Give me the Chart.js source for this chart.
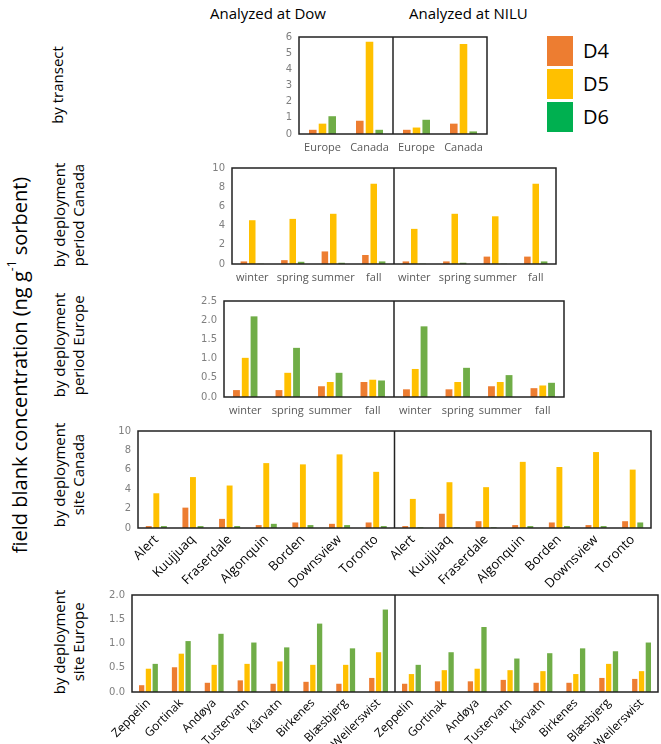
<!DOCTYPE html>
<html>
<head>
<meta charset="utf-8">
<script src="https://cdn.jsdelivr.net/npm/chart.js@4/dist/chart.umd.min.js"></script>
<style>
  html, body { margin:0; padding:0; background:#fff; }
  body { width:661px; height:744px; position:relative; overflow:hidden; font-family:'Open Sans', sans-serif; }
  canvas { position:absolute; }
  .t { position:absolute; white-space:nowrap; color:#000; }
  .vert { position:absolute; writing-mode:vertical-rl; transform:translate(-50%,-50%) rotate(180deg); white-space:nowrap; text-align:center; line-height:1.3; color:#000; }
  .sw { position:absolute; width:26px; height:30px; }
</style>
</head>
<body>

<div class="t" style="left:210px;top:3px;font-size:15px;">Analyzed at Dow</div>
<div class="t" style="left:409px;top:3px;font-size:15px;">Analyzed at NILU</div>

<div class="vert" style="left:20px;top:365px;font-size:20px;">field blank concentration (ng g<sup style="font-size:12px;line-height:0">-1</sup> sorbent)</div>
<div class="vert" style="left:58px;top:85px;font-size:15px;">by transect</div>
<div class="vert" style="left:69px;top:215px;font-size:15px;">by deployment<br>period Canada</div>
<div class="vert" style="left:69px;top:345px;font-size:15px;">by deployment<br>period Europe</div>
<div class="vert" style="left:69px;top:475px;font-size:15px;">by deployment<br>site Canada</div>
<div class="vert" style="left:69px;top:642px;font-size:15px;">by deployment<br>site Europe</div>

<div class="sw" style="left:547px;top:36px;background:#ED7D31;"></div>
<div class="sw" style="left:547px;top:69px;background:#FFC000;"></div>
<div class="sw" style="left:547px;top:102px;background:#00B050;"></div>
<div class="t" style="left:583px;top:37px;font-size:20px;">D4</div>
<div class="t" style="left:583px;top:70px;font-size:20px;">D5</div>
<div class="t" style="left:583px;top:103px;font-size:20px;">D6</div>

<canvas id="c1"></canvas>
<canvas id="c2"></canvas>
<canvas id="c3"></canvas>
<canvas id="c4"></canvas>
<canvas id="c5"></canvas>

<script>
// ---------- data (order: Analyzed at Dow categories, then Analyzed at NILU categories) ----------
const seriesNames = ['D4', 'D5', 'D6'];

const transectCats = ['Europe', 'Canada'];
const transectD4 = [0.26, 0.82, 0.26, 0.64];
const transectD5 = [0.64, 5.70, 0.40, 5.56];
const transectD6 = [1.10, 0.26, 0.88, 0.16];

const periodCats = ['winter', 'spring', 'summer', 'fall'];
const periodCanadaD4 = [0.27, 0.40, 1.31, 0.94, 0.27, 0.27, 0.77, 0.77];
const periodCanadaD5 = [4.56, 4.70, 5.23, 8.36, 3.66, 5.23, 4.97, 8.36];
const periodCanadaD6 = [0.03, 0.23, 0.13, 0.27, 0.03, 0.13, 0.03, 0.27];

const periodEuropeD4 = [0.18, 0.18, 0.28, 0.39, 0.20, 0.20, 0.28, 0.23];
const periodEuropeD5 = [1.02, 0.63, 0.39, 0.45, 0.73, 0.39, 0.39, 0.30];
const periodEuropeD6 = [2.10, 1.28, 0.63, 0.43, 1.84, 0.76, 0.57, 0.37];

const siteCanadaCats = ['Alert', 'Kuujjuaq', 'Fraserdale', 'Algonquin', 'Borden', 'Downsview', 'Toronto'];
const siteCanadaD4 = [0.20, 2.10, 0.94, 0.30, 0.57, 0.43, 0.57,  0.20, 1.47, 0.70, 0.30, 0.57, 0.30, 0.70];
const siteCanadaD5 = [3.58, 5.25, 4.38, 6.69, 6.56, 7.59, 5.79,  3.00, 4.72, 4.21, 6.82, 6.29, 7.83, 6.02];
const siteCanadaD6 = [0.20, 0.20, 0.20, 0.43, 0.30, 0.30, 0.20,  0.07, 0.07, 0.07, 0.20, 0.20, 0.20, 0.57];

const siteEuropeCats = ['Zeppelin', 'Gortinak', 'Andøya', 'Tustervatn', 'Kårvatn', 'Birkenes', 'Blæsbjerg', 'Weilerswist'];
const siteEuropeD4 = [0.14, 0.51, 0.19, 0.24, 0.17, 0.21, 0.17, 0.29,  0.17, 0.22, 0.22, 0.25, 0.19, 0.19, 0.29, 0.27];
const siteEuropeD5 = [0.48, 0.79, 0.56, 0.58, 0.63, 0.56, 0.56, 0.82,  0.37, 0.45, 0.48, 0.45, 0.43, 0.37, 0.58, 0.43];
const siteEuropeD6 = [0.58, 1.05, 1.20, 1.02, 0.92, 1.41, 0.90, 1.70,  0.56, 0.82, 1.34, 0.69, 0.80, 0.90, 0.84, 1.02];

// ---------- styling ----------
const barColors = ['#ED7D31', '#FFC000', '#70AD47'];
Chart.defaults.font.family = "'Open Sans', sans-serif";

const framePlugin = {
  id: 'frame',
  afterDatasetsDraw(chart) {
    const { ctx, chartArea: a, scales: { x } } = chart;
    const n = chart.data.labels.length / 2;
    const xm = (x.getPixelForValue(n - 1) + x.getPixelForValue(n)) / 2;
    ctx.save();
    ctx.strokeStyle = '#222';
    ctx.lineWidth = 1.5;
    ctx.strokeRect(a.left, a.top, a.right - a.left, a.bottom - a.top);
    ctx.beginPath();
    ctx.moveTo(xm, a.top);
    ctx.lineTo(xm, a.bottom);
    ctx.stroke();
    ctx.restore();
  }
};

function makePanel(id, box, cats, series, yMax, yStep, decimals, rotated) {
  const cv = document.getElementById(id);
  const W = box.right - box.left, H = box.bottom - box.top;
  cv.width = W; cv.height = H;
  cv.style.left = box.left + 'px'; cv.style.top = box.top + 'px';
  cv.style.width = W + 'px'; cv.style.height = H + 'px';
  const labels = cats.concat(cats);
  new Chart(cv, {
    type: 'bar',
    data: {
      labels: labels,
      datasets: series.map((d, i) => ({
        label: seriesNames[i],
        data: d,
        backgroundColor: barColors[i],
        borderWidth: 0,
        categoryPercentage: 0.62,
        barPercentage: 0.78
      }))
    },
    options: {
      responsive: false,
      animation: false,
      devicePixelRatio: 1,
      layout: { padding: { top: box.padTop, right: box.padRight, left: 0, bottom: 0 } },
      plugins: { legend: { display: false }, tooltip: { enabled: false } },
      scales: {
        x: {
          grid: { display: false, drawTicks: false },
          border: { display: false },
          afterFit: s => { s.height = box.xh; },
          ticks: rotated ? {
            autoSkip: false, minRotation: 45, maxRotation: 45, padding: 4,
            color: '#000', font: { size: box.fs }
          } : {
            autoSkip: false, maxRotation: 0, padding: 7,
            color: '#595959', font: { size: 11 }
          }
        },
        y: {
          min: 0, max: yMax,
          grid: { display: false, drawTicks: false },
          border: { display: false },
          afterFit: s => { s.width = box.yw; },
          ticks: {
            stepSize: yStep, padding: 7, color: '#7f7f7f',
            font: { family: "'DejaVu Sans', sans-serif", size: 10 },
            callback: v => Number(v).toFixed(decimals)
          }
        }
      }
    },
    plugins: [framePlugin]
  });
}

makePanel('c1', { left: 264, top: 24, right: 492, bottom: 160, padTop: 10, padRight: 5, yw: 35, xh: 26 },
  transectCats, [transectD4, transectD5, transectD6], 6, 1, 0, false);
makePanel('c2', { left: 197, top: 155, right: 561, bottom: 290, padTop: 10, padRight: 5, yw: 35, xh: 26 },
  periodCats, [periodCanadaD4, periodCanadaD5, periodCanadaD6], 10, 2, 0, false);
makePanel('c3', { left: 189, top: 288, right: 569, bottom: 423, padTop: 10, padRight: 5, yw: 35, xh: 26 },
  periodCats, [periodEuropeD4, periodEuropeD5, periodEuropeD6], 2.5, 0.5, 1, false);
makePanel('c4', { left: 100, top: 418, right: 656, bottom: 600, padTop: 10, padRight: 5, yw: 38, xh: 72, fs: 13 },
  siteCanadaCats, [siteCanadaD4, siteCanadaD5, siteCanadaD6], 10, 2, 0, true);
makePanel('c5', { left: 97, top: 582, right: 661, bottom: 744, padTop: 10, padRight: 3, yw: 35, xh: 52, fs: 12 },
  siteEuropeCats, [siteEuropeD4, siteEuropeD5, siteEuropeD6], 2.0, 0.5, 1, true);
</script>
</body>
</html>
